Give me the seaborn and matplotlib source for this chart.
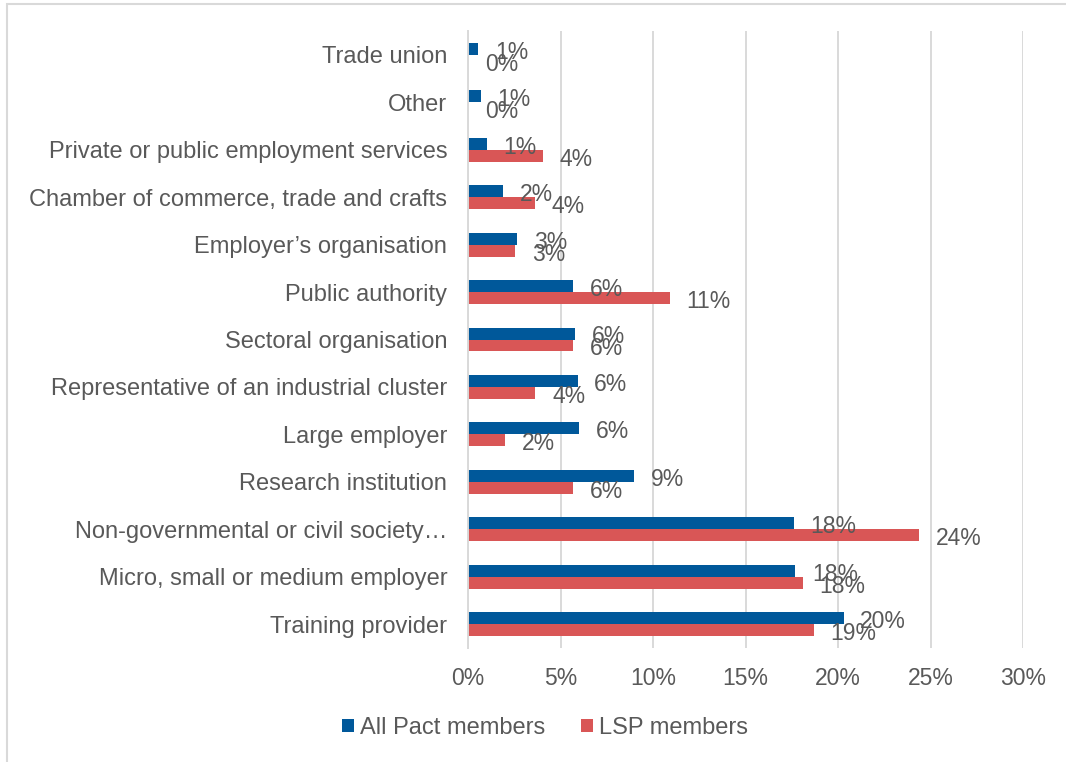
import matplotlib
matplotlib.use("Agg")
import matplotlib.pyplot as plt
from matplotlib.ticker import PercentFormatter
from matplotlib.patches import Rectangle, Patch
import pandas as pd
import seaborn as sns

# Type of organisation of the responding members (share of respondents, %)
categories = [
    "Trade union",
    "Other",
    "Private or public employment services",
    "Chamber of commerce, trade and crafts",
    "Employer’s organisation",
    "Public authority",
    "Sectoral organisation",
    "Representative of an industrial cluster",
    "Large employer",
    "Research institution",
    "Non-governmental or civil society…",
    "Micro, small or medium employer",
    "Training provider",
]
all_pact = [0.55, 0.7, 1.0, 1.9, 2.65, 5.7, 5.78, 5.92, 6.0, 8.96, 17.6, 17.7, 20.3]
lsp = [0.0, 0.0, 4.05, 3.6, 2.55, 10.9, 5.7, 3.64, 2.0, 5.7, 24.4, 18.1, 18.7]
series_names = ["All Pact members", "LSP members"]
colors = ["#00589A", "#D95656"]
x_ticks = [0, 5, 10, 15, 20, 25, 30]

TEXT = "#595959"
GRID = "#D9D9D9"

plt.rcParams["font.family"] = ["Liberation Sans", "DejaVu Sans"]

df = pd.DataFrame({
    "category": categories * 2,
    "value": all_pact + lsp,
    "group": [series_names[0]] * len(categories) + [series_names[1]] * len(categories),
})

W, H = 1066, 762
fig = plt.figure(figsize=(W / 100, H / 100), dpi=100)
ax = fig.add_axes([468 / W, 1 - 648 / H, (1023 - 468) / W, 617 / H])

sns.barplot(
    data=df, y="category", x="value", hue="group",
    order=categories, hue_order=series_names, palette=colors,
    orient="h", width=0.505, gap=0, saturation=1, linewidth=0,
    legend=False, ax=ax,
)

# value labels just past the end of every bar
for container, values in zip(ax.containers, [all_pact, lsp]):
    for bar, v in zip(container, values):
        ax.annotate(
            f"{v:.0f}%",
            xy=(bar.get_width(), bar.get_y() + bar.get_height() / 2),
            xytext=(12, -2.5), textcoords="offset points",
            ha="left", va="center", fontsize=16.5, color=TEXT,
        )

ax.set_xlim(0, 30)
ax.set_ylim(len(categories) - 0.5, -0.5)
ax.set_xticks(x_ticks)
ax.xaxis.set_major_formatter(PercentFormatter(xmax=100, decimals=0))
ax.set_xlabel("")
ax.set_ylabel("")

ax.xaxis.grid(True, color=GRID, lw=1.4)
ax.set_axisbelow(True)
for side in ("top", "right", "bottom"):
    ax.spines[side].set_visible(False)
ax.spines["left"].set_color(GRID)
ax.spines["left"].set_linewidth(1.4)

ax.tick_params(axis="x", length=0, pad=14, labelsize=16.5, labelcolor=TEXT)
ax.tick_params(axis="y", length=0, pad=15, labelsize=17, labelcolor=TEXT)

handles = [Patch(facecolor=c, edgecolor="none") for c in colors]
fig.legend(
    handles, series_names, loc="center",
    bbox_to_anchor=(545 / W, 1 - 728 / H), ncol=2, frameon=False,
    handlelength=0.5, handleheight=0.5, handletextpad=0.25,
    columnspacing=1.5, fontsize=17, labelcolor=TEXT,
)

# light chart-area border
fig.add_artist(Rectangle((7 / W, -0.1), 1.1, 1 - 4 / H + 0.1,
                         transform=fig.transFigure, fill=False,
                         edgecolor=GRID, lw=1.5))

fig.savefig("out.png", dpi=100)
